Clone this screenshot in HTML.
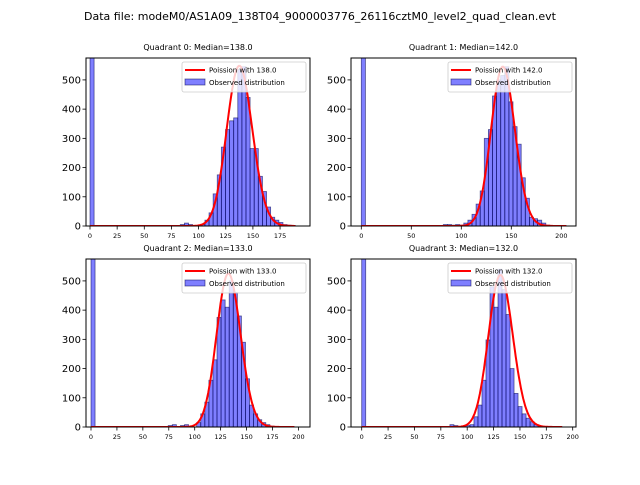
<!DOCTYPE html>
<html><head><meta charset="utf-8"><style>
body{margin:0;background:#fff;font-family:"Liberation Sans","DejaVu Sans",sans-serif}
svg text{font-family:"DejaVu Sans","Liberation Sans",sans-serif}
</style></head><body>
<svg id="chart" width="640" height="480" xmlns="http://www.w3.org/2000/svg">
<rect width="640" height="480" fill="#fff"/>
<text x="320" y="20" text-anchor="middle" font-size="11">Data file: modeM0/AS1A09_138T04_9000003776_26116cztM0_level2_quad_clean.evt</text>
</svg>
<script>
const quadNames = ["Quadrant 0","Quadrant 1","Quadrant 2","Quadrant 3"];
const medians = [138.0, 142.0, 133.0, 132.0];
const binWidths = [3.78, 4.1, 3.92, 3.8];
const curvePeaks = [548, 545, 525, 520];
const curveMax = [189, 205, 196, 190];
const counts0 = [2000,0,0,0,0,0,0,0,0,0,0,0,0,0,0,0,0,0,0,0,0,0,5,10,5,0,0,5,20,45,110,175,270,330,360,370,535,545,440,265,265,170,118,65,30,20,12,5,3,2];
const counts1 = [2000,0,0,0,0,0,0,0,0,0,0,0,0,0,0,0,0,0,0,0,5,5,3,5,3,10,20,40,75,120,300,330,445,500,515,545,425,340,280,165,95,30,25,20,10,3,2,1,1,1];
const counts2 = [2000,0,0,0,0,0,0,0,0,0,0,0,0,0,0,0,0,0,0,5,8,0,5,8,0,0,15,45,85,160,230,375,435,410,500,460,380,290,165,75,45,25,15,8,3,2,1,1,1,1];
const counts3 = [2000,0,0,0,0,0,0,0,0,0,0,0,0,0,0,0,0,0,0,0,0,0,8,5,0,0,5,8,35,75,160,298,480,410,540,470,385,200,115,70,45,30,18,8,3,2,1,1,1,1];
const allCounts = [counts0, counts1, counts2, counts3];
const yTicks = [0,100,200,300,400,500];
const xTicksSets = [[0,25,50,75,100,125,150,175],[0,50,100,150,200],[0,25,50,75,100,125,150,175,200],[0,25,50,75,100,125,150,175,200]];

const NS = "http://www.w3.org/2000/svg";
const svg = document.getElementById("chart");
const panels = [
  {l:86,r:310,t:58,b:226,x0:90,k:1.086},
  {l:351,r:576,t:58,b:226,x0:361.3,k:1.0},
  {l:86,r:310,t:259,b:427,x0:91,k:1.037},
  {l:351,r:576,t:259,b:427,x0:361.7,k:1.055}
];
const YMAX = 575;
function mk(tag, attrs, parent){const e=document.createElementNS(NS,tag);for(const a in attrs)e.setAttribute(a,attrs[a]);(parent||svg).appendChild(e);return e;}
function lnPois(n,l){let s=0;for(let i=2;i<=n;i++)s+=Math.log(i);return n*Math.log(l)-l-s;}

panels.forEach((p,qi)=>{
  const g = mk("g",{});
  
  
  const sx = v => p.x0 + p.k*v;
  const sy = c => p.b - (p.b-p.t)*c/YMAX;
  const cid = "clip"+qi;
  const cp = mk("clipPath",{id:cid},g); mk("rect",{x:p.l,y:p.t,width:p.r-p.l,height:p.b-p.t},cp);
  const plot = mk("g",{"clip-path":"url(#"+cid+")"},g);
  const bw = binWidths[qi];
  allCounts[qi].forEach((c,i)=>{
    if(c<=0) return;
    const x1=sx(i*bw), x2=sx((i+1)*bw);
    const r = mk("rect",{x:x1,y:sy(c),width:x2-x1,height:p.b-sy(c),fill:"rgba(0,0,255,0.5)",stroke:"rgba(0,0,80,0.6)","stroke-width":0.8},plot);
    
    
  });
  const lam = medians[qi]; const peak = Math.exp(lnPois(Math.round(lam),lam));
  let d="";
  for(let n=0;n<=curveMax[qi];n++){const y=Math.exp(lnPois(n,lam))/peak*curvePeaks[qi];d+=(n?"L":"M")+sx(n).toFixed(1)+","+sy(y).toFixed(1);}
  const path = mk("path",{d:d,fill:"none",stroke:"#f00","stroke-width":2},plot);
  
  
  const frame = mk("rect",{x:p.l,y:p.t,width:p.r-p.l,height:p.b-p.t,fill:"none",stroke:"#000","stroke-width":1},g);
  
  
  yTicks.forEach(t=>{
    const y=sy(t);
    mk("line",{x1:p.l-3.5,x2:p.l,y1:y,y2:y,stroke:"#000","stroke-width":0.8},g);
    const tx=mk("text",{x:p.l-5,y:y+3.5,"text-anchor":"end","font-size":10},g); tx.textContent=t;
    
    
  });
  xTicksSets[qi].forEach(t=>{
    const x=sx(t);
    mk("line",{x1:x,x2:x,y1:p.b,y2:p.b+3.5,stroke:"#000","stroke-width":0.8},g);
    const tx=mk("text",{x:x,y:p.b+12,"text-anchor":"middle","font-size":6.5},g); tx.textContent=t;
    
    
  });
  const ti=mk("text",{x:(p.l+p.r)/2,y:p.t-8,"text-anchor":"middle","font-size":8},g);
  ti.textContent=quadNames[qi]+": Median="+medians[qi].toFixed(1);
  
  
  const lg=mk("g",{},g);
  
  
  const lx=p.r-128, ly=p.t+4;
  mk("rect",{x:lx,y:ly,width:124,height:30,fill:"rgba(255,255,255,0.8)",stroke:"#ccc","stroke-width":0.8,rx:2},lg);
  mk("line",{x1:lx+3,x2:lx+23,y1:ly+8,y2:ly+8,stroke:"#f00","stroke-width":2},lg);
  const t1=mk("text",{x:lx+27,y:ly+10.5,"font-size":7},lg); t1.textContent="Poission with "+medians[qi].toFixed(1);
  
  
  mk("rect",{x:lx+3,y:ly+17,width:20,height:6,fill:"rgba(0,0,255,0.5)",stroke:"rgba(0,0,80,0.6)","stroke-width":0.8},lg);
  const t2=mk("text",{x:lx+27,y:ly+23,"font-size":7},lg); t2.textContent="Observed distribution";
  
  
});
</script>
</body></html>
